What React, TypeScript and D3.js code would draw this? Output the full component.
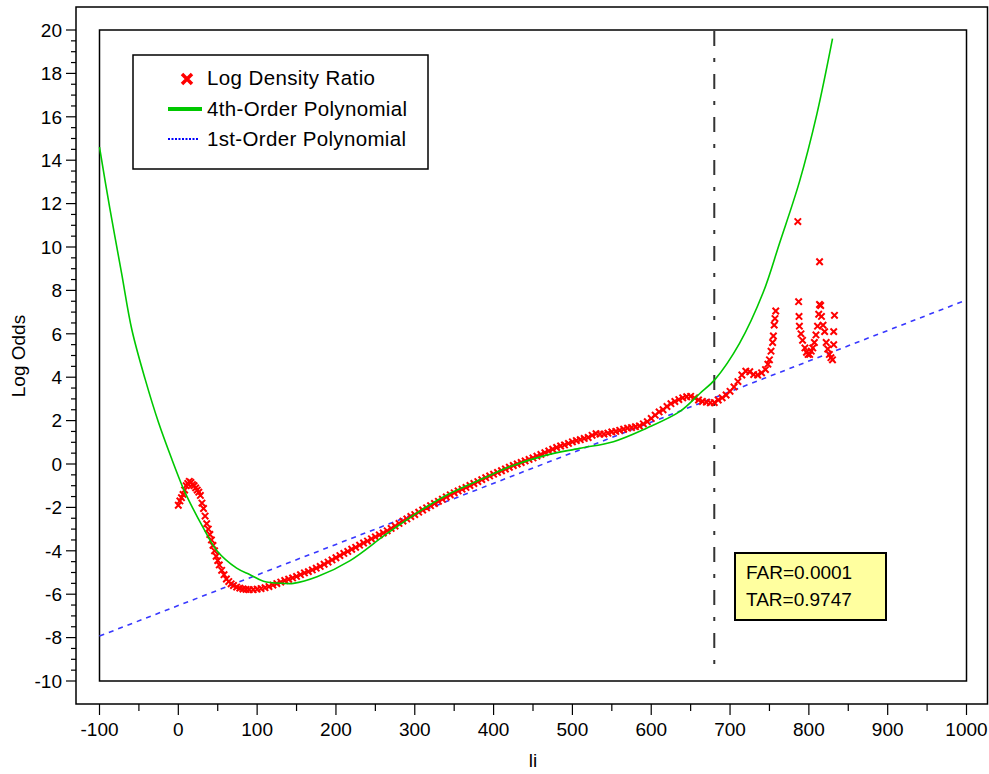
import React from "react";
import * as d3 from "d3";

// ---------- data ----------
const ratioX = [0,2,4,6,8,10,12,14,16,18,20,22,24,26,28,30,32,34,36,38,40,42,44,46,48,50,52,55,58,61,64,67,70,74,78,82,86,90,95,100,105,110,115,120,125,130,135,140,145,150,155,160,165,170,175,180,185,190,195,200,205,210,215,220,225,230,235,240,245,250,255,260,265,270,275,280,285,290,295,300,305,310,315,320,325,330,335,340,345,350,355,360,365,370,375,380,385,390,395,400,405,410,415,420,425,430,435,440,445,450,455,460,465,470,475,480,485,490,495,500,505,510,515,520,525,530,535,540,545,550,555,560,565,570,575,580,585,590,595,600,605,610,615,620,625,630,635,640,645,650,655,660,665,670,675,680,685,690,695,700,705,710,715,720,725,730,735,740,745,748,750,752,754,755,756,757,758,786,787,787.5,788,790,792,795,797,799,801,803,805,807,809,811,812.5,813.5,813.6,815,816,818,820,822,824,826,828,830,831.5,831.5,832.5];
const ratioY = [-1.9,-1.7,-1.55,-1.4,-1.2,-1.0,-0.9,-0.8,-0.85,-0.95,-1.0,-1.1,-1.2,-1.3,-1.45,-1.8,-2.05,-2.4,-2.75,-3.0,-3.25,-3.5,-3.75,-4.0,-4.25,-4.45,-4.65,-4.9,-5.1,-5.3,-5.42,-5.52,-5.6,-5.67,-5.72,-5.76,-5.78,-5.79,-5.79,-5.77,-5.74,-5.7,-5.65,-5.58,-5.51,-5.44,-5.37,-5.31,-5.25,-5.18,-5.1,-5.02,-4.96,-4.88,-4.8,-4.72,-4.62,-4.52,-4.42,-4.32,-4.22,-4.12,-4.03,-3.93,-3.84,-3.74,-3.64,-3.55,-3.45,-3.36,-3.27,-3.18,-3.08,-2.97,-2.86,-2.74,-2.63,-2.53,-2.42,-2.33,-2.22,-2.12,-2.02,-1.92,-1.82,-1.72,-1.62,-1.52,-1.42,-1.33,-1.24,-1.16,-1.08,-0.99,-0.9,-0.81,-0.72,-0.63,-0.55,-0.47,-0.39,-0.31,-0.23,-0.15,-0.07,0.0,0.07,0.14,0.21,0.28,0.36,0.44,0.52,0.6,0.68,0.76,0.83,0.88,0.95,1.02,1.08,1.12,1.18,1.22,1.32,1.4,1.38,1.38,1.42,1.48,1.5,1.55,1.6,1.65,1.68,1.72,1.75,1.85,1.95,2.1,2.25,2.4,2.5,2.65,2.78,2.88,2.97,3.05,3.1,3.12,3.05,2.95,2.88,2.85,2.82,2.83,2.95,3.05,3.18,3.35,3.55,3.8,4.1,4.28,4.25,4.12,4.1,4.2,4.35,4.6,4.8,5.2,5.6,5.9,6.4,6.7,7.05,11.17,7.48,6.8,6.35,6.0,5.7,5.35,5.15,5.05,5.05,5.2,5.35,5.6,5.95,6.35,6.9,7.35,9.32,7.3,6.8,6.4,6.1,5.6,5.3,5.05,4.9,4.8,5.5,6.1,6.85];

const poly4X = [-100,-87,-72,-59,-42,-25,-8,6,11,31,49,74,91,108,133,146,176,218,265,315,345,387,421,467,509,552,594,636,662,681,712,742,763,788,810,830];
const poly4Y = [14.6,11.8,8.8,6.2,3.9,1.9,0.2,-1.1,-1.5,-2.9,-4.0,-4.8,-5.1,-5.4,-5.5,-5.5,-5.2,-4.45,-3.2,-1.97,-1.35,-0.66,-0.12,0.41,0.72,1.03,1.65,2.41,3.26,3.9,5.56,7.9,10.2,13.0,16.1,19.6];

const poly1X = [-100, 1000];
const poly1Y = [-7.93, 7.56];

const thresholdX = 680;
const xTicks = [-100,0,100,200,300,400,500,600,700,800,900,1000];
const yTicks = [-10,-8,-6,-4,-2,0,2,4,6,8,10,12,14,16,18,20];
const legendLabels = ["Log Density Ratio", "4th-Order Polynomial", "1st-Order Polynomial"];
const noteLines = ["FAR=0.0001", "TAR=0.9747"];

// ---------- layout ----------
const W = 989, H = 774;
const x = d3.scaleLinear().domain([-100, 1000]).range([99.5, 966.5]);
const y = d3.scaleLinear().domain([-10, 20]).range([681, 30]);
const FONT = "'Liberation Sans', Arial, Helvetica, sans-serif";

export default function App() {
  const line = d3.line<[number, number]>().x(d => x(d[0])).y(d => y(d[1])).curve(d3.curveCatmullRom);
  const poly4 = line(poly4X.map((v, i) => [v, poly4Y[i]] as [number, number])) || "";
  const poly1 = d3.line<[number, number]>().x(d => x(d[0])).y(d => y(d[1]))(poly1X.map((v, i) => [v, poly1Y[i]] as [number, number])) || "";

  const minorY = d3.range(-10, 20.001, 0.5);
  const minorX = d3.range(-100, 1000.001, 50);
  const axisY = 704, axisX = 76;
  const s = 3.2;

  return (
    <svg width={W} height={H} style={{ position: "absolute", left: 0, top: 0, background: "#fff" }} fontFamily={FONT}>
      {/* outer frame */}
      <rect x={76} y={7} width={911.5} height={697} fill="none" stroke="#000" strokeWidth={1.5} />
      {/* inner plot box */}
      <rect x={x(-100)} y={y(20)} width={x(1000) - x(-100)} height={y(-10) - y(20)} fill="none" stroke="#000" strokeWidth={1.5} />

      {/* y ticks */}
      {minorY.map(v => (
        <line key={"my" + v} x1={axisX - (Math.abs(v % 2) < 1e-6 ? 10 : 5)} x2={axisX} y1={y(v)} y2={y(v)} stroke="#000" strokeWidth={1.2} />
      ))}
      {yTicks.map(v => (
        <text key={"yt" + v} x={62} y={y(v)} dy="0.36em" textAnchor="end" fontSize={19}>{v}</text>
      ))}
      {/* x ticks */}
      {minorX.map(v => (
        <line key={"mx" + v} x1={x(v)} x2={x(v)} y1={axisY} y2={axisY + (Math.abs(v % 100) < 1e-6 ? 11 : 7)} stroke="#000" strokeWidth={1.2} />
      ))}
      {xTicks.map(v => (
        <text key={"xt" + v} x={x(v)} y={736} textAnchor="middle" fontSize={19}>{v}</text>
      ))}
      <text x={533} y={767} textAnchor="middle" fontSize={19}>li</text>
      <text transform={`translate(25,356) rotate(-90)`} textAnchor="middle" fontSize={19}>Log Odds</text>

      {/* threshold */}
      <line x1={x(thresholdX)} x2={x(thresholdX)} y1={31} y2={672} stroke="#333" strokeWidth={2} strokeDasharray="15,12,4,12" />

      {/* 1st order */}
      <path d={poly1} fill="none" stroke="#3838ff" strokeWidth={1.6} strokeDasharray="5,5" />
      {/* scatter */}
      <g stroke="#ff0000" strokeWidth={2}>
        {ratioX.map((v, i) => {
          const cx = x(v), cy = y(ratioY[i]);
          return <path key={"p" + i} d={`M${cx - s},${cy - s}L${cx + s},${cy + s}M${cx - s},${cy + s}L${cx + s},${cy - s}`} />;
        })}
      </g>
      {/* 4th order */}
      <path d={poly4} fill="none" stroke="#00c800" strokeWidth={1.6} />

      {/* legend */}
      <rect x={133} y={55} width={295} height={114} fill="#fff" stroke="#000" strokeWidth={1.5} />
      <path d="M182,74L192,84M182,84L192,74" stroke="#ff0000" strokeWidth={3.5} />
      <line x1={168} x2={202} y1={109} y2={109} stroke="#00c800" strokeWidth={4} />
      <line x1={168} x2={199} y1={139} y2={139} stroke="#0000ff" strokeWidth={2} strokeDasharray="2,1.5" />
      <text x={207} y={85} fontSize={20.5} textLength={168}>{legendLabels[0]}</text>
      <text x={207} y={116} fontSize={20.5} textLength={200}>{legendLabels[1]}</text>
      <text x={207} y={146} fontSize={20.5} textLength={199}>{legendLabels[2]}</text>

      {/* annotation */}
      <rect x={735} y={553} width={151} height={67} fill="#ffff9f" stroke="#000" strokeWidth={2} />
      <text x={746} y={579} fontSize={19}>{noteLines[0]}</text>
      <text x={746} y={606} fontSize={19}>{noteLines[1]}</text>
    </svg>
  );
}
